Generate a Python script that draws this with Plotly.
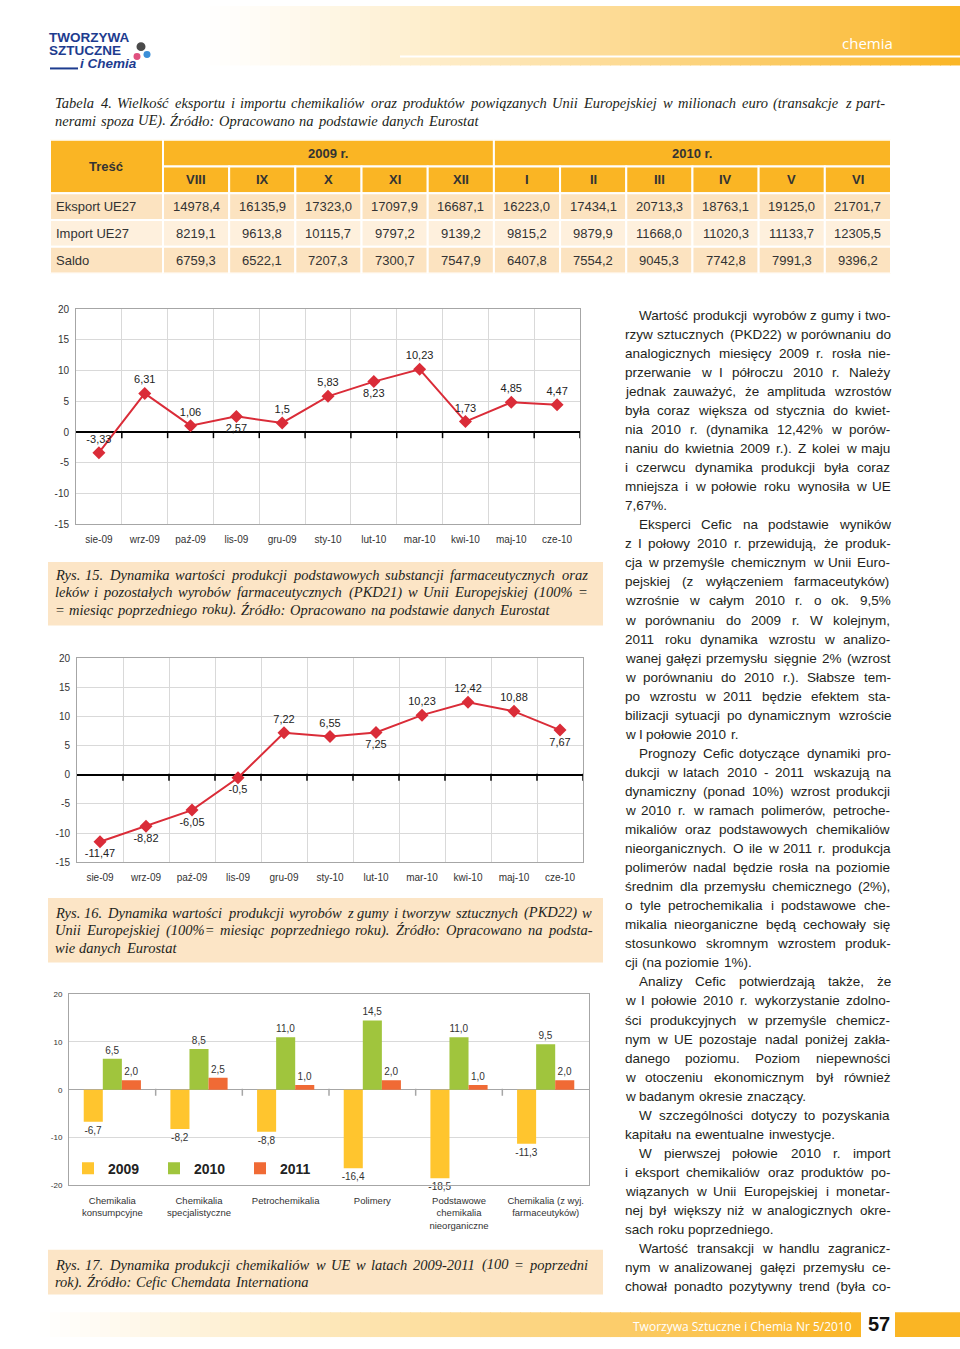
import plotly.graph_objects as go

W, H = 960, 1349
def px(x): return x / W
def py(y): return 1 - y / H

# ---------------- data ----------------
MONTHS = ["sie-09", "wrz-09", "paź-09", "lis-09", "gru-09", "sty-10",
          "lut-10", "mar-10", "kwi-10", "maj-10", "cze-10"]
PKD21 = [-3.33, 6.31, 1.06, 2.57, 1.5, 5.83, 8.23, 10.23, 1.73, 4.85, 4.47]
PKD21_POS = ["top center", "top center", "top center", "bottom center", "top center",
             "top center", "bottom center", "top center", "top center", "top center", "top center"]
PKD22 = [-11.47, -8.82, -6.05, -0.5, 7.22, 6.55, 7.25, 10.23, 12.42, 10.88, 7.67]
PKD22_POS = ["bottom center", "bottom center", "bottom center", "bottom center", "top center",
             "top center", "bottom center", "top center", "top center", "top center", "bottom center"]

SECTORS = ["Chemikalia<br>konsumpcyjne", "Chemikalia<br>specjalistyczne", "Petrochemikalia",
           "Polimery", "Podstawowe<br>chemikalia<br>nieorganiczne", "Chemikalia (z wyj.<br>farmaceutyków)"]
Y2009 = [-6.7, -8.2, -8.8, -16.4, -18.5, -11.3]
Y2010 = [6.5, 8.5, 11.0, 14.5, 11.0, 9.5]
Y2011 = [2.0, 2.5, 1.0, 2.0, 1.0, 2.0]

TABLE_COLS = ["VIII", "IX", "X", "XI", "XII", "I", "II", "III", "IV", "V", "VI"]
TABLE_YEARS = [("2009 r.", 5), ("2010 r.", 6)]
TABLE_ROWS = ["Eksport UE27", "Import UE27", "Saldo"]
EKSPORT = [14978.4, 16135.9, 17323.0, 17097.9, 16687.1, 16223.0, 17434.1, 20713.3, 18763.1, 19125.0, 21701.7]
IMPORT = [8219.1, 9613.8, 10115.7, 9797.2, 9139.2, 9815.2, 9879.9, 11668.0, 11020.3, 11133.7, 12305.5]
SALDO = [6759.3, 6522.1, 7207.3, 7300.7, 7547.9, 6407.8, 7554.2, 9045.3, 7742.8, 7991.3, 9396.2]

TABLE_CAPTION = [
    "Tabela 4. Wielkość eksportu i importu chemikaliów oraz produktów powiązanych Unii Europejskiej w milionach euro (transakcje z part-",
    "nerami spoza UE). Źródło: Opracowano na podstawie danych Eurostat"]
CAP15 = ["Rys. 15. Dynamika wartości produkcji podstawowych substancji farmaceutycznych oraz",
         "leków i pozostałych wyrobów farmaceutycznych (PKD21) w Unii Europejskiej (100% =",
         "= miesiąc poprzedniego roku). Źródło: Opracowano na podstawie danych Eurostat"]
CAP16 = ["Rys. 16. Dynamika wartości produkcji wyrobów z gumy i tworzyw sztucznych (PKD22) w",
         "Unii Europejskiej (100%= miesiąc poprzedniego roku). Źródło: Opracowano na podsta-",
         "wie danych Eurostat"]
CAP17 = ["Rys. 17. Dynamika produkcji chemikaliów w UE w latach 2009-2011 (100 = poprzedni",
         "rok). Źródło: Cefic Chemdata Internationa"]

BODY = [
    ["Wartość produkcji wyrobów z gumy i two-",
     "rzyw sztucznych (PKD22) w porównaniu do",
     "analogicznych miesięcy 2009 r. rosła nie-",
     "przerwanie w I półroczu 2010 r. Należy",
     "jednak zauważyć, że amplituda wzrostów",
     "była coraz większa od stycznia do kwiet-",
     "nia 2010 r. (dynamika 12,42% w porów-",
     "naniu do kwietnia 2009 r.). Z kolei w maju",
     "i czerwcu dynamika produkcji była coraz",
     "mniejsza i w połowie roku wynosiła w UE",
     "7,67%."],
    ["Eksperci Cefic na podstawie wyników",
     "z I połowy 2010 r. przewidują, że produk-",
     "cja w przemyśle chemicznym w Unii Euro-",
     "pejskiej (z wyłączeniem farmaceutyków)",
     "wzrośnie w całym 2010 r. o ok. 9,5%",
     "w porównaniu do 2009 r. W kolejnym,",
     "2011 roku dynamika wzrostu w analizo-",
     "wanej gałęzi przemysłu sięgnie 2% (wzrost",
     "w porównaniu do 2010 r.). Słabsze tem-",
     "po wzrostu w 2011 będzie efektem sta-",
     "bilizacji sytuacji po dynamicznym wzroście",
     "w I połowie 2010 r."],
    ["Prognozy Cefic dotyczące dynamiki pro-",
     "dukcji w latach 2010 - 2011 wskazują na",
     "dynamiczny (ponad 10%) wzrost produkcji",
     "w 2010 r. w ramach polimerów, petroche-",
     "mikaliów oraz podstawowych chemikaliów",
     "nieorganicznych. O ile w 2011 r. produkcja",
     "polimerów nadal będzie rosła na poziomie",
     "średnim dla przemysłu chemicznego (2%),",
     "o tyle petrochemikalia i podstawowe che-",
     "mikalia nieorganiczne będą cechowały się",
     "stosunkowo skromnym wzrostem produk-",
     "cji (na poziomie 1%)."],
    ["Analizy Cefic potwierdzają także, że",
     "w I połowie 2010 r. wykorzystanie zdolno-",
     "ści produkcyjnych w przemyśle chemicz-",
     "nym w UE pozostaje nadal poniżej zakła-",
     "danego poziomu. Poziom niepewności",
     "w otoczeniu ekonomicznym był również",
     "w badanym okresie znaczący."],
    ["W szczególności dotyczy to pozyskania",
     "kapitału na ewentualne inwestycje."],
    ["W pierwszej połowie 2010 r. import",
     "i eksport chemikaliów oraz produktów po-",
     "wiązanych w Unii Europejskiej i monetar-",
     "nej był większy niż w analogicznych okre-",
     "sach roku poprzedniego."],
    ["Wartość transakcji w handlu zagranicz-",
     "nym w analizowanej gałęzi przemysłu ce-",
     "chował ponadto pozytywny trend (była co-"],
]

# ---------------- styles ----------------
ORANGE = (250, 181, 36)
ORANGE_HEX = "#FAB524"
PEACH = "#FCE3C0"
PEACH_LIGHT = "#FEF0DD"
CAPTION_BG = "#FCE5C6"
RED = "#DA2C38"
C2009 = "#FFC52E"
C2010 = "#A0C53D"
C2011 = "#F06A35"
TXT = "#231F20"
GRID = "#D9D9D9"
BORDER = "#A6A6A6"
SANS = "Liberation Sans"
SERIF = "Liberation Serif"

ARIAL_W = {}
for chars, w in [(" !,./:;Itf", 278), ("ijlł", 222), ("'", 191), ("-()r", 333),
                 ("cksvxyzJćśźż", 500), ("abdeghnopquąęńó0123456789LŁ", 556), ("+=<>", 584),
                 ("FTZŹŻ", 611), ("ABEKPSVXYŚ", 667), ("CDHNRUwŃ", 722), ("GOQÓ", 778),
                 ("mM", 833), ("%", 889), ("W", 944)]:
    for c in chars:
        ARIAL_W[c] = w
TIMES_I_W = {}
for chars, w in [(" .,", 250), ("fijltł", 278), ("-()I:;!", 333), ("rszśźż", 389),
                 ("cekvxyćęJ", 444), ("abdghnopquąńó0123456789SŚ", 500), ("LTYZŹŻ", 556),
                 ("ABEFPRVX", 611), ("CKNw", 667), ("=+<>", 675), ("DGHOQUmÓ", 722), ("MW%", 833)]:
    for c in chars:
        TIMES_I_W[c] = w

shapes = []
annotations = []

def fmt(v, nd=None):
    s = ("%g" % v) if nd is None else f"{v:.{nd}f}"
    return s.replace(".", ",")

def rgb(c):
    return "rgb(%d,%d,%d)" % c

def mix(t):
    return tuple(round(255 + (o - 255) * t) for o in ORANGE)

def paper_rect(x0, y0, x1, y1, color, layer="below"):
    shapes.append(dict(type="rect", xref="paper", yref="paper", x0=px(x0), x1=px(x1),
                       y0=py(y1), y1=py(y0), fillcolor=color, line=dict(width=0), layer=layer))

def note(text, x, y, size, color=TXT, family=SANS, xanchor="center", weight="normal",
         style="normal"):
    annotations.append(dict(text=text, xref="paper", yref="paper", x=px(x), y=py(y),
                            xanchor=xanchor, yanchor="middle", showarrow=False,
                            borderpad=0, borderwidth=0,
                            font=dict(family=family, size=size, color=color,
                                      weight=weight, style=style)))

def text_line(text, x0, x1, y, size, family, widths, default, justify, italic=False, k=1.0):
    words = text.split(" ")
    wpx = [k * sum(widths.get(ch, default) for ch in w) * size / 1000 for w in words]
    space = widths[" "] * size / 1000
    gap = space
    if justify and len(words) > 1:
        gap = max((x1 - x0 - sum(wpx)) / (len(words) - 1), 0.8 * space)
    x = x0
    for w, ww in zip(words, wpx):
        note(w, x, y, size, family=family, xanchor="left",
             style="italic" if italic else "normal")
        x += ww + gap

# ---------------- page decoration ----------------
N = 76
for i in range(N):
    xa = 200 + i * 10
    t = max(0.0, min(1.0, (xa + 5 - 200) / 760)) ** 1.2
    paper_rect(xa, 0, xa + 11, 60, rgb(mix(t)))
shapes.append(dict(type="line", xref="paper", yref="paper", x0=px(400), x1=px(960),
                   y0=py(51), y1=py(51), line=dict(color="white", width=2), layer="below"))
note("chemia", 867, 37, 15, color="white", family="Open Sans")

# logo
LOGO = "#1D3C8F"
note("TWORZYWA", 49, 32, 13.5, color=LOGO, xanchor="left", weight="bold")
note("SZTUCZNE", 49, 45, 13.5, color=LOGO, xanchor="left", weight="bold")
note("i Chemia", 80, 58, 13.5, color=LOGO, xanchor="left", weight="bold", style="italic")
shapes.append(dict(type="line", xref="paper", yref="paper", x0=px(50), x1=px(78),
                   y0=py(63), y1=py(63), line=dict(color=LOGO, width=2)))
for cx, cy, r, col in [(141, 41, 4.5, "#4A4A4A"), (137, 51, 3.5, "#E0507F"), (147, 49, 3.5, "#3C8FD8")]:
    shapes.append(dict(type="circle", xref="paper", yref="paper", x0=px(cx - r), x1=px(cx + r),
                       y0=py(cy + r), y1=py(cy - r), fillcolor=col, line=dict(width=0)))

# footer band
for i in range(82):
    xa = 40 + i * 10
    t = max(0.0, min(1.0, (xa + 5 - 40) / 820)) ** 1.1
    paper_rect(xa, 1318, xa + 11, 1343, rgb(mix(t)))
paper_rect(862, 1318, 895, 1343, "white")
paper_rect(895, 1318, 960, 1343, ORANGE_HEX)
note("Tworzywa Sztuczne i Chemia Nr 5/2010", 742, 1332, 12, color="white", family="Open Sans")
note("57", 879, 1330, 20, color="#111", weight="bold")

# caption boxes
paper_rect(48, 561, 603, 625, CAPTION_BG)
paper_rect(48, 900, 603, 965, CAPTION_BG)
paper_rect(48, 1255, 603, 1300, CAPTION_BG)

def caption(lines, y0, x1, step=17.5, size=14.5):
    for i, ln in enumerate(lines):
        text_line(ln, 55, x1, y0 + i * step, size, SERIF, TIMES_I_W, 500,
                  justify=(i < len(lines) - 1), italic=True, k=1.02)

caption(TABLE_CAPTION, 98, 885, step=18)
caption(CAP15, 574, 588)
caption(CAP16, 915, 592)
caption(CAP17, 1270, 588)

BODY_TOP, BODY_STEP = 312, 19.22
row = 0
for p_i, para in enumerate(BODY):
    for l_i, ln in enumerate(para):
        last = (l_i == len(para) - 1) and (p_i < len(BODY) - 1)
        x0 = 639 if l_i == 0 else 625
        text_line(ln, x0, 891, BODY_TOP + row * BODY_STEP, 13.5, SANS, ARIAL_W, 556,
                  justify=not last, k=1.015)
        row += 1

# ---------------- table (axis x4/y4) ----------------
LABEL_W = 1.707
def cell(x0, x1, y0, y1, color):
    shapes.append(dict(type="rect", xref="x4", yref="y4", x0=x0, x1=x1, y0=y0, y1=y1,
                       fillcolor=color, line=dict(color="white", width=2), layer="below"))

def tnote(text, x, y, bold=False, xanchor="center", xshift=0):
    annotations.append(dict(text=text, xref="x4", yref="y4", x=x, y=y, xanchor=xanchor,
                            yanchor="middle", showarrow=False, xshift=xshift,
                            font=dict(family=SANS, size=13, color="#333",
                                      weight="bold" if bold else "normal")))

cell(-LABEL_W, 0, 0, 2, ORANGE_HEX)
tnote("Treść", -LABEL_W / 2, 1, bold=True)
start = 0
for name, n in TABLE_YEARS:
    cell(start, start + n, 0, 1, ORANGE_HEX)
    tnote(name, start + n / 2, 0.5, bold=True)
    start += n
for j, c in enumerate(TABLE_COLS):
    cell(j, j + 1, 1, 2, ORANGE_HEX)
    tnote(c, j + 0.5, 1.5, bold=True)
ROW_FILLS = [PEACH, PEACH_LIGHT, PEACH]
for r, (label, vals) in enumerate(zip(TABLE_ROWS, [EKSPORT, IMPORT, SALDO])):
    yy = 2 + r
    cell(-LABEL_W, 0, yy, yy + 1, ROW_FILLS[r])
    tnote(label, -LABEL_W, yy + 0.5, xanchor="left", xshift=4)
    for j, v in enumerate(vals):
        cell(j, j + 1, yy, yy + 1, ROW_FILLS[r])
        tnote(fmt(v, 1), j + 0.5, yy + 0.5)

# ---------------- figure ----------------
fig = go.Figure()

idx_m = list(range(len(MONTHS)))
for series, pos, xa, ya in [(PKD21, PKD21_POS, "x", "y"), (PKD22, PKD22_POS, "x2", "y2")]:
    fig.add_trace(go.Scatter(
        x=idx_m, y=series, mode="lines+markers+text", text=[fmt(v) for v in series],
        textposition=pos, line=dict(color=RED, width=2),
        marker=dict(symbol="diamond", size=10, color=RED),
        textfont=dict(family=SANS, size=11, color="#222"),
        cliponaxis=False, showlegend=False, hoverinfo="skip", xaxis=xa, yaxis=ya))

def zero_ticks(n, xa, ya, dom, yr, color):
    ppu = (dom[1] - dom[0]) / (yr[1] - yr[0])
    fig.add_trace(go.Scatter(
        x=[i + 0.5 for i in range(n)], y=[-2.5 / ppu] * n, mode="markers",
        marker=dict(symbol="line-ns", size=5, line=dict(width=1.5, color=color)),
        showlegend=False, hoverinfo="skip", xaxis=xa, yaxis=ya, cliponaxis=False))

C1_X, C1_Y = (76, 580), (306, 523)
C2_X, C2_Y = (77, 583), (658, 864)
C3_X, C3_Y = (69, 589), (997, 1190)
TB_X, TB_Y = (50, 891), (135, 270)

zero_ticks(len(MONTHS), "x", "y", C1_Y, (-15, 20), "black")
zero_ticks(len(MONTHS), "x2", "y2", C2_Y, (-15, 20), "black")

idx_s = list(range(len(SECTORS)))
for name, vals, col in [("2009", Y2009, C2009), ("2010", Y2010, C2010), ("2011", Y2011, C2011)]:
    fig.add_trace(go.Bar(
        x=idx_s, y=vals, name=name, marker=dict(color=col, line=dict(width=0)),
        text=[fmt(v, 1) for v in vals], textposition="outside", constraintext="none",
        textfont=dict(family=SANS, size=10, color="#333"), cliponaxis=False,
        hoverinfo="skip", xaxis="x3", yaxis="y3"))
zero_ticks(len(SECTORS) - 1, "x3", "y3", C3_Y, (-20, 20), BORDER)

fig.add_trace(go.Scatter(x=[None], y=[None], xaxis="x4", yaxis="y4", showlegend=False,
                         hoverinfo="skip"))

def xax(dom, n, ticktext, anchor, size, grid=True):
    d = dict(domain=[px(dom[0]), px(dom[1])], anchor=anchor, range=[-0.5, n - 0.5],
             tickmode="array", tickvals=list(range(n)), ticktext=ticktext,
             showgrid=False, zeroline=False, showline=True, mirror=True,
             linecolor=BORDER, linewidth=1, ticks="", ticklabelstandoff=6,
             tickfont=dict(family=SANS, size=size, color="#333"), fixedrange=True)
    if grid:
        d["minor"] = dict(tickvals=[i + 0.5 for i in range(n - 1)], showgrid=True,
                          gridcolor=GRID, gridwidth=1, ticks="")
    return d

def yax(dom, rng, dtick, anchor, size, zcolor, zwidth):
    vals = list(range(rng[0], rng[1] + 1, dtick))
    return dict(domain=[py(dom[1]), py(dom[0])], anchor=anchor, range=list(rng),
                tickmode="array", tickvals=vals, ticktext=[str(v) for v in vals],
                showgrid=True,
                gridcolor=GRID, gridwidth=1, zeroline=True, zerolinecolor=zcolor,
                zerolinewidth=zwidth, showline=True, mirror=True, linecolor=BORDER,
                linewidth=1, ticks="", ticklabelstandoff=4,
                tickfont=dict(family=SANS, size=size, color="#333"), fixedrange=True)

fig.update_layout(
    width=W, height=H, autosize=False, margin=dict(l=0, r=0, t=0, b=0, pad=0),
    paper_bgcolor="white", plot_bgcolor="rgba(0,0,0,0)",
    font=dict(family=SANS, color=TXT),
    barmode="group", bargap=0.34, bargroupgap=0,
    xaxis=xax(C1_X, len(MONTHS), MONTHS, "y", 10),
    yaxis=yax(C1_Y, (-15, 20), 5, "x", 10, "black", 2),
    xaxis2=xax(C2_X, len(MONTHS), MONTHS, "y2", 10),
    yaxis2=yax(C2_Y, (-15, 20), 5, "x2", 10, "black", 2),
    xaxis3=xax(C3_X, len(SECTORS), SECTORS, "y3", 9.5, grid=False),
    yaxis3=yax(C3_Y, (-20, 20), 10, "x3", 8, BORDER, 1),
    xaxis4=dict(domain=[px(TB_X[0]), px(TB_X[1])], anchor="y4",
                range=[-LABEL_W, len(TABLE_COLS)], visible=False, fixedrange=True),
    yaxis4=dict(domain=[py(TB_Y[1]), py(TB_Y[0])], anchor="x4",
                range=[5, 0], visible=False, fixedrange=True),
    showlegend=True,
    legend=dict(orientation="h", x=px(68), y=py(1173), xanchor="left", yanchor="middle",
                font=dict(family=SANS, size=14, color="#222", weight="bold"),
                bgcolor="rgba(0,0,0,0)", itemwidth=30, entrywidth=41,
                entrywidthmode="pixels", itemclick=False, itemdoubleclick=False,
                traceorder="normal"),
    shapes=shapes, annotations=annotations,
)

fig.write_html("out.html", config={"displayModeBar": False},
               post_script="document.body.style.margin='0';document.body.style.padding='0';")
